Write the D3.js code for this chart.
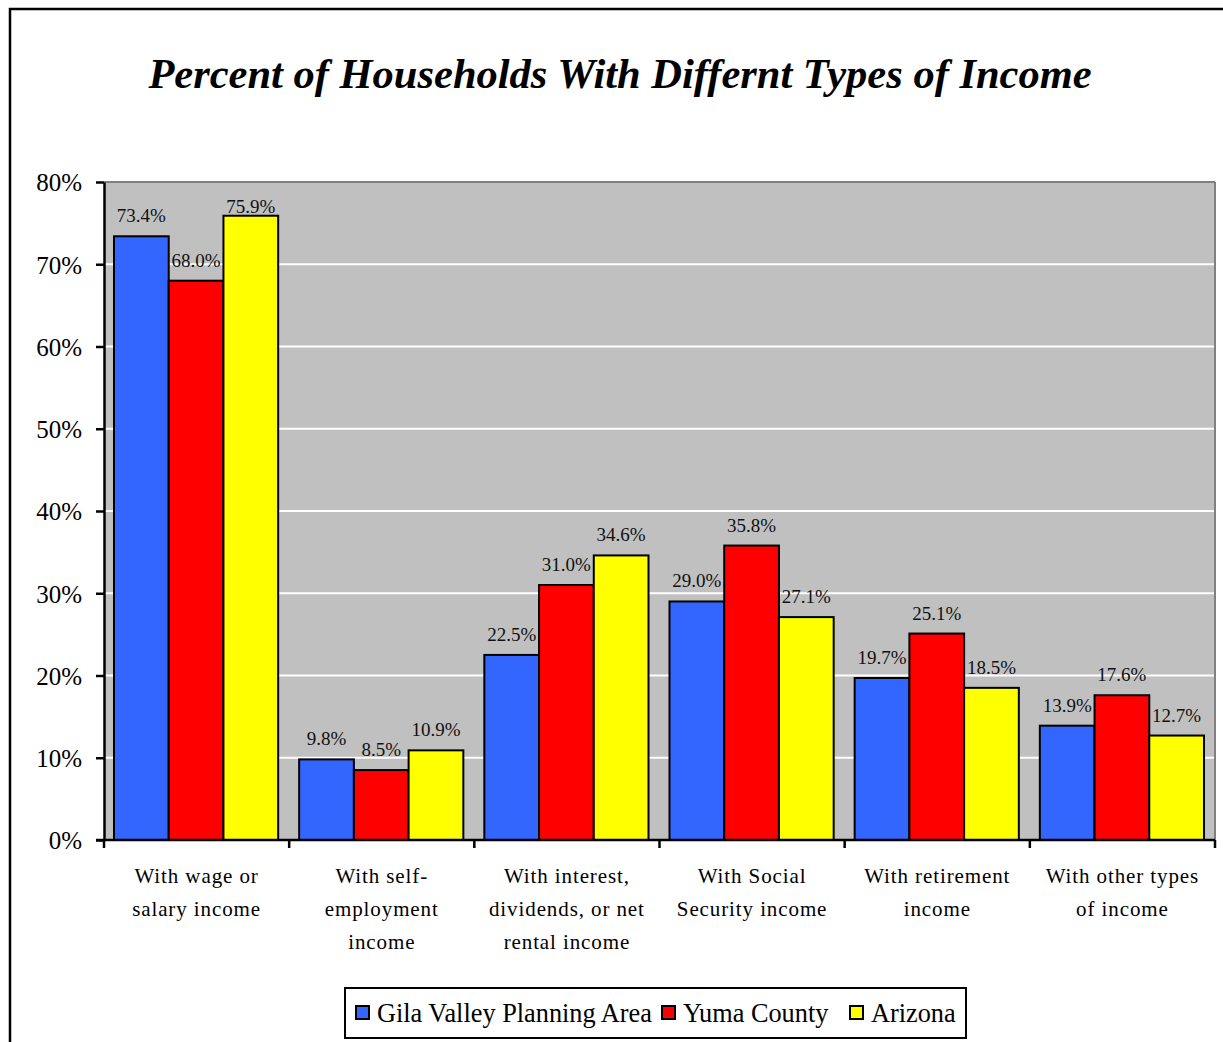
<!DOCTYPE html>
<html><head><meta charset="utf-8">
<script src="https://cdn.jsdelivr.net/npm/d3@7"></script>
<style>body{margin:0;background:#fff}</style></head>
<body><svg id="c" width="1223" height="1042"></svg>
<script>
const categories = [
  ["With wage or","salary income"],
  ["With self-","employment","income"],
  ["With interest,","dividends, or net","rental income"],
  ["With Social","Security income"],
  ["With retirement","income"],
  ["With other types","of income"]
];
const seriesNames = ["Gila Valley Planning Area","Yuma County","Arizona"];
const gila = [73.4, 9.8, 22.5, 29.0, 19.7, 13.9];
const yuma = [68.0, 8.5, 31.0, 35.8, 25.1, 17.6];
const arizona = [75.9, 10.9, 34.6, 27.1, 18.5, 12.7];
const colors = ["#3366FF","#FF0000","#FFFF00"];
const yTicks = [0,10,20,30,40,50,60,70,80];

const series = [gila, yuma, arizona];
const svg = d3.select("#c");
const font = "'Liberation Serif','Times New Roman',serif";

// outer frame
svg.append("rect").attr("x",10).attr("y",9).attr("width",1240).attr("height",1060)
  .attr("fill","none").attr("stroke","#000").attr("stroke-width",2.5);

svg.append("text").attr("x",620).attr("y",88).attr("text-anchor","middle")
  .attr("font-family",font).attr("font-weight","bold").attr("font-style","italic")
  .attr("font-size",42.5).text("Percent of Households With Differnt Types of Income");

const L=104, R=1215, T=182, B=840;
const x0 = d3.scaleBand().domain(d3.range(categories.length)).range([L,R]).padding(0);
const x1 = d3.scaleBand().domain(d3.range(3)).range([10, x0.bandwidth()-11]).padding(0);
const y = d3.scaleLinear().domain([0,80]).range([B,T]);

svg.append("rect").attr("x",L).attr("y",T).attr("width",R-L).attr("height",B-T).attr("fill","#C0C0C0");
svg.append("g").selectAll("line").data(yTicks.filter(d=>d>0&&d<80)).join("line")
  .attr("x1",L).attr("x2",R).attr("y1",d=>y(d)).attr("y2",d=>y(d))
  .attr("stroke","#fff").attr("stroke-width",2);
svg.append("line").attr("x1",L).attr("x2",R).attr("y1",T).attr("y2",T).attr("stroke","#808080").attr("stroke-width",2);
svg.append("line").attr("x1",R).attr("x2",R).attr("y1",T).attr("y2",B).attr("stroke","#808080").attr("stroke-width",2);

const groups = svg.append("g").selectAll("g").data(categories).join("g")
  .attr("transform",(d,i)=>`translate(${x0(i)},0)`);
groups.each(function(c,i){
  const g = d3.select(this);
  series.forEach((s,k)=>{
    g.append("rect").attr("x",x1(k)).attr("y",y(s[i])).attr("width",x1.bandwidth())
      .attr("height",B-y(s[i])).attr("fill",colors[k]).attr("stroke","#000").attr("stroke-width",2);
    g.append("text").attr("x",x1(k)+x1.bandwidth()/2).attr("y",Math.max(y(s[i])-14, T+31))
      .attr("text-anchor","middle").attr("font-family",font).attr("font-size",19).attr("fill","#111")
      .text(s[i].toFixed(1)+"%");
  });
});

// y axis
const ya = svg.append("g").attr("transform",`translate(${L},0)`)
  .call(d3.axisLeft(y).tickValues(yTicks).tickFormat(d=>d+"%").tickSize(8).tickSizeOuter(0));
ya.select(".domain").attr("stroke","#000").attr("stroke-width",2.5);
ya.selectAll(".tick line").attr("stroke","#000").attr("stroke-width",2.5);
ya.selectAll(".tick text").attr("font-family",font).attr("font-size",25).attr("fill","#000").attr("x",-22).attr("dy","0.35em");

// x axis
const xa = svg.append("g").attr("transform",`translate(0,${B})`);
xa.append("line").attr("x1",L-8).attr("x2",R).attr("y1",0).attr("y2",0).attr("stroke","#000").attr("stroke-width",2.5);
xa.selectAll("line.t").data(d3.range(categories.length+1)).join("line").attr("class","t")
  .attr("x1",i=>L+i*x0.step()).attr("x2",i=>L+i*x0.step()).attr("y1",0).attr("y2",8)
  .attr("stroke","#000").attr("stroke-width",2.5);
categories.forEach((lines,i)=>{
  const t = xa.append("text").attr("text-anchor","middle").attr("font-family",font)
    .attr("font-size",21).attr("letter-spacing","0.9px").attr("fill","#000");
  lines.forEach((ln,j)=>t.append("tspan").attr("x",x0(i)+x0.bandwidth()/2).attr("y",43+j*33).text(ln));
});

// legend
const lg = svg.append("g");
lg.append("rect").attr("x",345).attr("y",988).attr("width",621).attr("height",50).attr("fill","#fff").attr("stroke","#000").attr("stroke-width",2);
const lx = [356, 662, 850];
seriesNames.forEach((n,k)=>{
  lg.append("rect").attr("x",lx[k]).attr("y",1006).attr("width",13).attr("height",13)
    .attr("fill",colors[k]).attr("stroke","#000").attr("stroke-width",2);
  lg.append("text").attr("x",lx[k]+21).attr("y",1022).attr("font-family",font).attr("font-size",26.3).text(n);
});
</script></body></html>
